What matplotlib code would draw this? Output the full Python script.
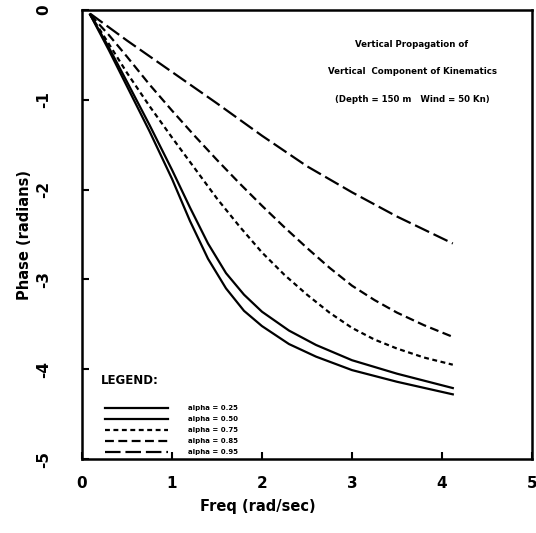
import matplotlib
matplotlib.use("Agg")
import matplotlib.pyplot as plt

# ---- data ----
alphas = ["0.25", "0.50", "0.75", "0.85", "0.95"]

x_a25 = [0.09, 0.3, 0.5, 0.75, 1.0, 1.2, 1.4, 1.6, 1.8, 2.0, 2.3, 2.6, 3.0, 3.5, 4.12]
y_a25 = [-0.05, -0.45, -0.85, -1.35, -1.88, -2.35, -2.77, -3.1, -3.35, -3.52, -3.72, -3.86, -4.01, -4.14, -4.28]

x_a50 = [0.09, 0.3, 0.5, 0.75, 1.0, 1.2, 1.4, 1.6, 1.8, 2.0, 2.3, 2.6, 3.0, 3.5, 4.12]
y_a50 = [-0.05, -0.42, -0.8, -1.28, -1.78, -2.2, -2.6, -2.93, -3.17, -3.36, -3.57, -3.73, -3.9, -4.05, -4.21]

x_a75 = [0.09, 0.3, 0.5, 0.75, 1.0, 1.25, 1.5, 1.75, 2.0, 2.25, 2.5, 2.75, 3.0, 3.25, 3.5, 3.8, 4.12]
y_a75 = [-0.05, -0.38, -0.7, -1.07, -1.42, -1.76, -2.1, -2.41, -2.7, -2.95, -3.17, -3.37, -3.54, -3.67, -3.77, -3.87, -3.95]

x_a85 = [0.09, 0.3, 0.5, 0.75, 1.0, 1.25, 1.5, 1.75, 2.0, 2.25, 2.5, 2.75, 3.0, 3.25, 3.5, 3.8, 4.12]
y_a85 = [-0.05, -0.28, -0.52, -0.83, -1.12, -1.4, -1.67, -1.93, -2.18, -2.42, -2.65, -2.87, -3.07, -3.23, -3.37, -3.51, -3.64]

x_a95 = [0.09, 0.5, 1.0, 1.5, 2.0, 2.5, 3.0, 3.5, 4.12]
y_a95 = [-0.04, -0.34, -0.69, -1.04, -1.4, -1.74, -2.03, -2.3, -2.6]

xticks = [0, 1, 2, 3, 4, 5]
yticks = [0, -1, -2, -3, -4, -5]

title_lines = ["Vertical Propagation of",
               "Vertical  Component of Kinematics",
               "(Depth = 150 m   Wind = 50 Kn)"]

# ---- figure ----
W, H = 536, 533
fig = plt.figure(figsize=(W / 100, H / 100), dpi=100)
ax = fig.add_axes([82 / W, 1 - 459 / H, (532 - 82) / W, (459 - 10) / H])

lw = 1.6
styles = [
    dict(ls="-"),
    dict(ls="-"),
    dict(ls=(0, (2.2, 1.6))),
    dict(ls=(0, (4.0, 2.0))),
    dict(ls=(0, (7.0, 2.2))),
]
series = [(x_a25, y_a25), (x_a50, y_a50), (x_a75, y_a75), (x_a85, y_a85), (x_a95, y_a95)]
lines = []
for (xs, ys), st in zip(series, styles):
    ln, = ax.plot(xs, ys, color="black", lw=lw, solid_joinstyle="round", **st)
    lines.append(ln)

ax.set_xlim(0, 5)
ax.set_ylim(-5, 0)
ax.set_xticks(xticks)
ax.set_yticks(yticks)
ax.set_xticklabels([str(t) for t in xticks], fontweight="bold", fontsize=11)
ax.set_yticklabels([str(t) for t in yticks], fontweight="bold", fontsize=11, rotation=90, va="center")
ax.tick_params(direction="in", length=5, width=1.5, pad=12)
ax.tick_params(axis="y", pad=22)
for s in ax.spines.values():
    s.set_linewidth(1.8)

ax.set_xlabel("Freq (rad/sec)", fontweight="bold", fontsize=10.5)
ax.xaxis.set_label_coords((258 - 82) / 450, -0.088)
ax.set_ylabel("Phase (radians)", fontweight="bold", fontsize=10.5)
ax.yaxis.set_label_coords(-0.112, 0.5)

for i, t in enumerate(title_lines):
    fig.text(412 / W, 1 - (45 + i * 27) / H, t, fontsize=6.2, fontweight="bold",
             ha="center", va="center")

# legend drawn manually
fig.text(101 / W, 1 - 381 / H, "LEGEND:", fontsize=8.5, fontweight="bold", va="center")
rows = [408, 419, 430, 441, 452]
for ln, st, a, r in zip(lines, styles, alphas, rows):
    yf = 1 - r / H
    fig.add_artist(plt.Line2D([105 / W, 168 / W], [yf, yf], color="black", lw=lw,
                              transform=fig.transFigure, **st))
    fig.text(188 / W, yf, "alpha = " + a, fontsize=5, fontweight="bold", va="center")

fig.savefig("out.png", dpi=100)
